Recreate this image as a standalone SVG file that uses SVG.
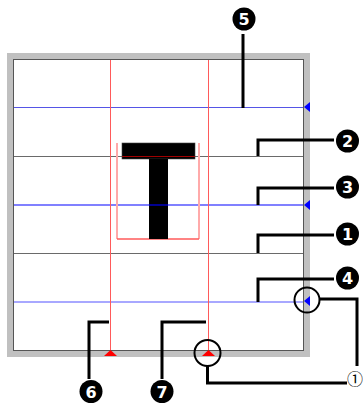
<svg xmlns="http://www.w3.org/2000/svg" width="363" height="403" viewBox="0 0 363 403">
<style>
.lead{fill:none;stroke:#000;stroke-width:3}
.badge circle{fill:#000}
.badge text{font-family:"DejaVu Sans",sans-serif;font-weight:bold;font-size:16px;fill:#fff;text-anchor:middle}
.red{stroke:#ff5a5a;stroke-width:1}
.gray{stroke:#6a6a6a;stroke-width:1}
</style>
<rect width="363" height="403" fill="#fff"/>
<g id="frame">
<rect x="7" y="53" width="303" height="304" fill="#c0c0c0"/>
<rect x="13.5" y="59.5" width="290" height="291" fill="#fff" stroke="#555" stroke-width="1"/>
</g>
<g id="guides">
<line x1="14" y1="107.5" x2="303" y2="107.5" stroke="#5555e6" stroke-width="1"/>
<line x1="14" y1="156.5" x2="303" y2="156.5" class="gray"/>
<line x1="14" y1="205" x2="303" y2="205" stroke="#6060ff" stroke-width="2" stroke-opacity="0.8"/>
<line x1="14" y1="253.5" x2="303" y2="253.5" class="gray"/>
<line x1="14" y1="302" x2="303" y2="302" stroke="#a8a8ff" stroke-width="2"/>
<line x1="110.5" y1="60" x2="110.5" y2="350" class="red"/>
<line x1="208.5" y1="60" x2="208.5" y2="350" class="red"/>
</g>
<g id="glyph">
<line x1="117" y1="143" x2="117" y2="239" stroke="#ffaaaa" stroke-width="2"/>
<line x1="199" y1="143" x2="199" y2="239" stroke="#ffaaaa" stroke-width="2"/>
<line x1="117" y1="239" x2="199" y2="239" stroke="#ff5a5a" stroke-width="1.5"/>
<rect x="122" y="143" width="73" height="16" fill="#000" stroke="#444" stroke-width="0.6"/>
<rect x="149" y="159" width="19" height="80" fill="#000"/>
<line x1="122" y1="156.5" x2="195" y2="156.5" stroke="#a00000" stroke-width="1"/>
<line x1="149" y1="205" x2="168" y2="205" stroke="#000090" stroke-width="2"/>
</g>
<g id="markers">
<polygon points="304,107 310,102 310,112" fill="#0000ff"/>
<polygon points="304,205 310,200 310,210" fill="#0000ff"/>
<polygon points="304,301 310,296 310,306" fill="#0000ff"/>
<polygon points="110.5,350 104,356 117,356" fill="#ff0000"/>
<polygon points="208.5,350 202,356 215,356" fill="#ff0000"/>
<circle cx="307" cy="300" r="12.5" fill="none" stroke="#000" stroke-width="2"/>
<circle cx="207.5" cy="353" r="13" fill="none" stroke="#000" stroke-width="2"/>
</g>
<g id="connectors">
<polyline class="lead" points="243,34 243,108"/>
<polyline class="lead" points="334,140 258,140 258,156"/>
<polyline class="lead" points="334,188 258,188 258,205"/>
<polyline class="lead" points="334,235 258,235 258,253"/>
<polyline class="lead" points="334,279 258,279 258,302"/>
<polyline class="lead" points="109,322 89,322 89,379"/>
<polyline class="lead" points="206,322 162,322 162,379"/>
<polyline class="lead" points="319,299 357,299 357,366"/>
<polyline class="lead" points="207.5,366 207.5,383 347,383"/>
</g>
<g id="label5" class="badge"><circle cx="244" cy="19" r="11.5"/><text x="244" y="25">5</text></g>
<g id="label2" class="badge"><circle cx="347.5" cy="141" r="11.5"/><text x="347.5" y="147">2</text></g>
<g id="label3" class="badge"><circle cx="347.5" cy="187" r="11.5"/><text x="347.5" y="193">3</text></g>
<g id="label1" class="badge"><circle cx="347.5" cy="234" r="11.5"/><text x="347.5" y="240">1</text></g>
<g id="label4" class="badge"><circle cx="347.5" cy="278" r="11.5"/><text x="347.5" y="284">4</text></g>
<g id="label6" class="badge"><circle cx="91" cy="391.5" r="11.5"/><text x="91" y="397.5">6</text></g>
<g id="label7" class="badge"><circle cx="162" cy="391.5" r="11.5"/><text x="162" y="397.5">7</text></g>
<g id="label-c1"><text x="355" y="384.5" font-family="'Noto Sans CJK JP', sans-serif" font-size="16" text-anchor="middle">①</text></g>
</svg>
